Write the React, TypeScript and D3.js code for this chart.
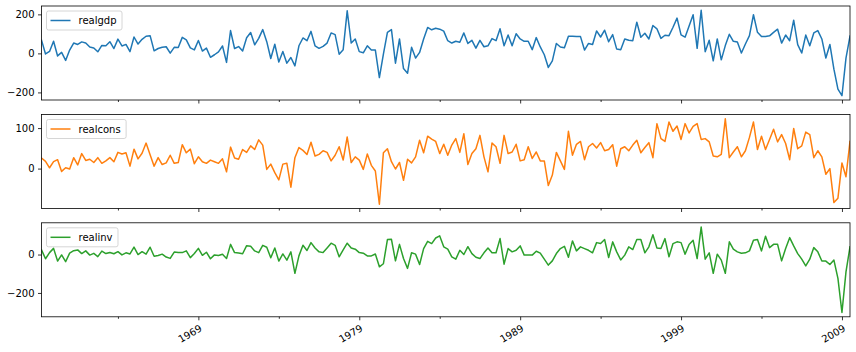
import { useEffect, useRef } from "react";
import * as d3 from "d3";

// quarterly first differences, 1959Q2 .. 2009Q3
const START_YEAR = 1959;
const START_QUARTER = 2;

const realgdp = [
  68, -3, 10, 62, -13, 5, -36, 17, 53, 46,
  59, 53, 33, 28, 8, 41, 39, 60, 25, 73,
  38, 46, 9, 84, 48, 72, 88, 91, 13, 25,
  31, 34, 1, 31, 30, 82, 69, 28, 18, 66,
  12, 27, -20, -7, 8, 38, -46, 117, 25, 35,
  12, 80, 107, 44, 77, 122, 60, -26, 47, -44,
  10, -50, -21, -64, 39, 79, 65, 113, 39, 26,
  36, 53, 105, 96, -4, 19, 218, 53, 74, 9,
  3, 39, 17, 17, -124, -4, 108, 122, -50, 74,
  -78, -102, 31, -24, 5, 74, 133, 121, 129, 124,
  114, 65, 53, 62, 57, 105, 51, 67, 27, 67,
  34, 39, 76, 65, 126, 39, 94, 39, 101, 74,
  62, 62, 19, 81, 33, -7, -72, -38, 51, 33,
  29, 88, 88, 86, 86, 17, 51, 46, 115, 84,
  119, 60, 96, 22, 19, 74, 67, 65, 160, 83,
  103, 74, 143, 126, 77, 93, 91, 134, 181, 95,
  83, 140, 198, 26, 221, 9, 67, -38, 74, -33,
  40, 98, 62, 58, 2, 48, 91, 198, 108, 86,
  86, 90, 108, 124, 53, 94, 65, 170, 45, 2,
  94, 39, 105, 117, 74, -24, 46, -81, -183, -217,
  -24, 89,
];

const realcons = [
  26, 18, 2, 17, 22, -7, 2, -1, 27, 9,
  37, 20, 23, 15, 27, 13, 19, 27, 17, 40,
  36, 39, 6, 48, 24, 38, 63, 34, 6, 27,
  10, 14, 33, 13, 15, 59, 39, 48, 12, 29,
  17, 13, 21, 17, 13, 24, -8, 53, 26, 23,
  47, 40, 56, 47, 71, 58, -2, 11, -10, -28,
  11, 13, -46, 27, 52, 45, 35, 65, 31, 35,
  44, 40, 19, 33, 54, 21, 78, 15, 29, 21,
  -2, 36, 8, -6, -88, 39, 49, 17, -1, 15,
  -29, 23, 14, 29, 70, 39, 80, 73, 67, 37,
  60, 33, 58, 74, 40, 86, 10, 37, 49, 82,
  29, -8, 63, 54, 13, 82, 37, 41, 60, 19,
  22, 54, 25, 41, 19, 19, -42, -16, 40, 19,
  -2, 92, 33, 60, 67, 22, 54, 62, 51, 64,
  44, 47, 59, 6, 49, 54, 44, 58, 70, 39,
  52, 64, 27, 111, 74, 67, 115, 92, 105, 72,
  111, 88, 104, 111, 72, 74, 66, 31, 29, 35,
  123, 27, 41, 54, 29, 44, 77, 115, 47, 80,
  47, 72, 97, 66, 84, 62, 22, 99, 49, 56,
  90, 84, 27, 44, 29, -14, 0, -84, -73, 14,
  -20, 67,
];

const realinv = [
  24, -22, 10, 32, -34, -2, -37, 7, 20, 24,
  5, 19, -3, 6, -11, 18, 5, 11, 4, 15,
  -2, 9, 3, 39, 0, 15, 2, 38, -9, -5,
  2, -13, -20, 13, 10, 10, 19, -16, 5, 32,
  -4, 12, -22, -2, -5, 1, -21, 53, 10, 8,
  4, 46, 43, 19, 10, 48, 38, -17, 34, -34,
  3, -29, 14, -98, -7, 48, 21, 62, 34, 14,
  10, 34, 59, 48, -12, 24, 59, 34, 28, 10,
  7, -7, -7, 3, -64, -48, 78, 79, -33, 53,
  -21, -72, 9, 2, -52, 31, 69, 57, 86, 97,
  40, 28, -12, -24, 22, 0, 41, 5, -14, -21,
  9, 34, 9, 9, 83, -50, 31, 14, 22, 45,
  -3, -3, -3, 17, 7, -24, -55, -33, 5, 31,
  43, -14, 71, 19, 40, 31, 22, 9, 62, 57,
  78, -16, 66, 14, -28, -3, 40, 26, 78, 78,
  9, 40, 103, 34, 31, 83, -12, 57, 66, 62,
  2, 52, 74, -21, 143, -24, 9, -98, 2, -29,
  -98, 66, 28, 14, 7, 9, 19, 74, 78, 19,
  95, 36, 53, 53, -33, 31, 88, 45, 5, -24,
  -59, -24, 36, 14, -34, -34, -52, -29, -124, -302,
  -90, 40,
];

const seriesNames = ["realgdp", "realcons", "realinv"];
const seriesColors = ["#1f77b4", "#ff7f0e", "#2ca02c"];
const yTicks = [[-200, 0, 200], [0, 100], [-200, 0]];
const majorYears = [1969, 1979, 1989, 1999, 2009];
const minorYears = [1964, 1974, 1984, 1994, 2004];

const W = 856;
const H = 352;
const LEFT = 41.5;
const RIGHT = 850;
const panelTops = [6, 114.5, 222.8];
const panelH = 94;
const FONT = "'DejaVu Sans', sans-serif";

const qIndex = (year: number, q: number) => (year - START_YEAR) * 4 + (q - START_QUARTER);

export default function App() {
  const svgRef = useRef<SVGSVGElement>(null);

  useEffect(() => {
    if (!svgRef.current) return;
    const svg = d3.select(svgRef.current);
    svg.selectAll("*").remove();

    const all = [realgdp, realcons, realinv];
    const n = realgdp.length;
    const x = d3.scaleLinear().domain([0, n - 1]).range([LEFT, RIGHT]);

    all.forEach((values, k) => {
      const top = panelTops[k];
      const bottom = top + panelH;
      const [lo, hi] = d3.extent(values) as [number, number];
      const pad = (hi - lo) * 0.05;
      const y = d3.scaleLinear().domain([lo - pad, hi + pad]).range([bottom, top]);

      const g = svg.append("g");

      g.append("clipPath")
        .attr("id", `clip${k}`)
        .append("rect")
        .attr("x", LEFT)
        .attr("y", top)
        .attr("width", RIGHT - LEFT)
        .attr("height", panelH);

      const line = d3.line<number>()
        .x((_, i) => x(i))
        .y((d) => y(d));

      g.append("path")
        .datum(values)
        .attr("clip-path", `url(#clip${k})`)
        .attr("fill", "none")
        .attr("stroke", seriesColors[k])
        .attr("stroke-width", 1.5)
        .attr("stroke-linejoin", "round")
        .attr("stroke-linecap", "square")
        .attr("d", line);

      // y axis
      const ya = g.append("g")
        .attr("transform", `translate(${LEFT},0)`)
        .call(d3.axisLeft(y).tickValues(yTicks[k]).tickSize(3.5).tickPadding(3.5).tickFormat((d) => {
          const v = d as number;
          return v < 0 ? `\u2212${Math.abs(v)}` : `${v}`;
        }));
      ya.select(".domain").remove();

      // x axis, major + minor ticks
      const xa = g.append("g")
        .attr("transform", `translate(0,${bottom})`)
        .call(d3.axisBottom(x).tickValues(majorYears.map((yr) => qIndex(yr, 1))).tickSize(3.5).tickPadding(3.5)
          .tickFormat((_, i) => (k === 2 ? String(majorYears[i]) : "")));
      xa.select(".domain").remove();
      xa.selectAll("text")
        .attr("y", 0)
        .attr("dy", "0.76em")
        .attr("text-anchor", "end")
        .attr("transform", "translate(0,7) rotate(-30)");

      const xm = g.append("g")
        .attr("transform", `translate(0,${bottom})`)
        .call(d3.axisBottom(x).tickValues(minorYears.map((yr) => qIndex(yr, 1))).tickSize(2).tickFormat(() => ""));
      xm.select(".domain").remove();

      [ya, xa, xm].forEach((a) => {
        a.attr("font-family", FONT).attr("font-size", 10);
        a.selectAll("line").attr("stroke", "#000").attr("stroke-width", 0.8);
        a.selectAll("text").attr("fill", "#000");
      });

      // spines
      g.append("rect")
        .attr("x", LEFT)
        .attr("y", top)
        .attr("width", RIGHT - LEFT)
        .attr("height", panelH)
        .attr("fill", "none")
        .attr("stroke", "#000")
        .attr("stroke-width", 0.8);

      // legend
      const lg = g.append("g").attr("transform", `translate(${LEFT + 5},${top + 5})`);
      const box = lg.append("rect");
      lg.append("line")
        .attr("x1", 4).attr("x2", 24)
        .attr("y1", 9.5).attr("y2", 9.5)
        .attr("stroke", seriesColors[k])
        .attr("stroke-width", 1.5);
      const txt = lg.append("text")
        .attr("x", 32)
        .attr("y", 9.5)
        .attr("dy", "0.35em")
        .attr("font-family", FONT)
        .attr("font-size", 10)
        .attr("fill", "#000")
        .text(seriesNames[k]);
      const tw = (txt.node() as SVGTextElement).getComputedTextLength();
      box.attr("x", 0).attr("y", 0)
        .attr("width", 32 + tw + 5.5)
        .attr("height", 19)
        .attr("rx", 2)
        .attr("fill", "#fff")
        .attr("fill-opacity", 0.8)
        .attr("stroke", "#cccccc")
        .attr("stroke-width", 0.8);
    });
  }, []);

  return (
    <svg
      ref={svgRef}
      width={W}
      height={H}
      style={{ position: "absolute", left: 0, top: 0, background: "#fff" }}
    />
  );
}
